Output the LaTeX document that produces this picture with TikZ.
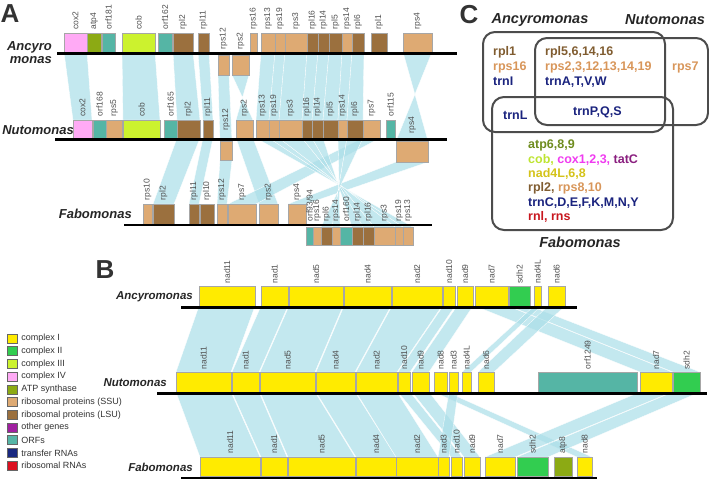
\documentclass[tikz,border=0pt]{standalone}
\usepackage{fontspec}
\setmainfont{Liberation Sans}
\usetikzlibrary{positioning,backgrounds}

\definecolor{cIc}{RGB}{255,235,0}
\definecolor{cIIc}{RGB}{50,205,80}
\definecolor{cIIIc}{RGB}{204,242,46}
\definecolor{cIVc}{RGB}{255,170,245}
\definecolor{atpc}{RGB}{140,170,20}
\definecolor{ssuc}{RGB}{222,170,115}
\definecolor{lsuc}{RGB}{155,112,62}
\definecolor{otherc}{RGB}{160,32,160}
\definecolor{orfc}{RGB}{85,181,165}
\definecolor{trnac}{RGB}{25,40,128}
\definecolor{rrnac}{RGB}{220,16,32}
\definecolor{bandc}{RGB}{170,222,232}
\definecolor{labgray}{RGB}{80,80,80}
\definecolor{lsut}{RGB}{128,92,48}
\definecolor{ssut}{RGB}{216,150,90}
\definecolor{trnat}{RGB}{26,35,126}
\definecolor{atpt}{RGB}{110,140,30}
\definecolor{cIIIt}{RGB}{190,228,50}
\definecolor{cIVt}{RGB}{240,60,240}
\definecolor{othert}{RGB}{138,31,127}
\definecolor{nadt}{RGB}{212,195,26}
\definecolor{rrnat}{RGB}{200,22,30}

\tikzstyle{gene}=[draw=black!35,line width=0.4pt,inner sep=0pt,outer sep=0pt]
\tikzstyle{cxI}=[fill=cIc]
\tikzstyle{cxII}=[fill=cIIc]
\tikzstyle{cxIII}=[fill=cIIIc]
\tikzstyle{cxIV}=[fill=cIVc]
\tikzstyle{atpS}=[fill=atpc]
\tikzstyle{ssu}=[fill=ssuc]
\tikzstyle{lsu}=[fill=lsuc]
\tikzstyle{orfS}=[fill=orfc]
\tikzstyle{glabel}=[rotate=90,anchor=west,inner sep=0.5pt,text=labgray,font=\fontsize{8.5}{8.5}\selectfont]
\tikzstyle{band}=[fill=bandc,fill opacity=0.7,draw=white,line width=0.3pt]
\tikzstyle{genome}=[line width=2.5pt]
\tikzstyle{species}=[anchor=east,inner sep=0pt,text=black!85,font=\fontsize{13}{13}\selectfont\bfseries\itshape]
\tikzstyle{bspecies}=[anchor=east,inner sep=0pt,text=black!85,font=\fontsize{11.5}{11.5}\selectfont\bfseries\itshape]
\tikzstyle{cspecies}=[inner sep=0pt,text=black!85,font=\fontsize{14.5}{14.5}\selectfont\bfseries\itshape]
\tikzstyle{panel}=[inner sep=0pt,text=black!80,font=\fontsize{26}{26}\selectfont\bfseries]
\tikzstyle{venn}=[draw=black!70,line width=2pt,rounded corners=12pt,inner sep=0pt]
\tikzstyle{vtext}=[anchor=west,inner sep=0pt,font=\fontsize{12.5}{12.5}\selectfont\bfseries]
\tikzstyle{legbox}=[draw=black!60,line width=0.5pt,minimum width=10pt,minimum height=9pt,inner sep=0pt]
\tikzstyle{legtext}=[inner sep=0pt,text=black!80,font=\fontsize{9}{9}\selectfont]

% box + rotated name: node, colour, x1, x2, y1, y2, text, text base
\newcommand{\gene}[8]{%
  \node[gene,#2,minimum width=#4-#3,minimum height=#6-#5] (#1) at ({(#3+#4)/2},{(#5+#6)/2}) {};
  \node[glabel] (#1-t) at ({(#3+#4)/2},#8) {#7};}
% synteny bands
\newcommand{\band}[2]{\path[band] (#1.south west) -- (#1.south east) -- (#2.north east) -- (#2.north west) -- cycle;}
\newcommand{\flip}[2]{\path[band] (#1.south west) -- (#1.south east) -- (#2.north west) -- (#2.north east) -- cycle;}

\begin{document}
\begin{tikzpicture}[x=1pt,y=-1pt]
\useasboundingbox (0,0) rectangle (709,479);

% ---- A ----
\node[panel] (pA) at (10,14) {A};
\node[species,align=right] (a-name) at (52,53) {Ancyro\\monas};
\node[species] (n-name) at (74,130) {Nutomonas};
\node[species] (f-name) at (132,214) {Fabomonas};

\gene{a-cox2}{cxIV}{64}{87}{33}{52}{cox2}{30}
\gene{a-atp4}{atpS}{87}{101}{33}{52}{atp4}{30}
\gene{a-orf181}{orfS}{102}{115}{33}{52}{orf181}{30}
\gene{a-cob}{cxIII}{122}{155}{33}{52}{cob}{30}
\gene{a-orf162}{orfS}{158}{172}{33}{52}{orf162}{30}
\gene{a-rpl2}{lsu}{173}{193}{33}{52}{rpl2}{30}
\gene{a-rpl11}{lsu}{198}{209}{33}{52}{rpl11}{30}
\gene{a-rps12}{ssu}{218}{229}{55}{75}{rps12}{50}
\gene{a-rps2}{ssu}{232}{249}{55}{75}{rps2}{50}
\gene{a-rps16}{ssu}{250}{257}{33}{52}{rps16}{30}
\gene{a-rps13}{ssu}{261}{275}{33}{52}{rps13}{30}
\gene{a-rps19}{ssu}{275}{285}{33}{52}{rps19}{30}
\gene{a-rps3}{ssu}{285}{307}{33}{52}{rps3}{30}
\gene{a-rpl16}{lsu}{307}{318}{33}{52}{rpl16}{30}
\gene{a-rpl14}{lsu}{318}{329}{33}{52}{rpl14}{30}
\gene{a-rpl5}{lsu}{329}{342}{33}{52}{rpl5}{30}
\gene{a-rps14}{ssu}{342}{352}{33}{52}{rps14}{30}
\gene{a-rpl6}{lsu}{352}{364}{33}{52}{rpl6}{30}
\gene{a-rpl1}{lsu}{371}{387}{33}{52}{rpl1}{30}
\gene{a-rps4}{ssu}{403}{432}{33}{52}{rps4}{30}

\gene{n-cox2}{cxIV}{73}{92}{120}{138}{cox2}{117}
\gene{n-orf168}{orfS}{93}{106}{120}{138}{orf168}{117}
\gene{n-rps5}{ssu}{106}{122}{120}{138}{rps5}{117}
\gene{n-cob}{cxIII}{123}{160}{120}{138}{cob}{117}
\gene{n-orf165}{orfS}{164}{177}{120}{138}{orf165}{117}
\gene{n-rpl2}{lsu}{177}{200}{120}{138}{rpl2}{117}
\gene{n-rpl11}{lsu}{203}{213}{120}{138}{rpl11}{117}
\gene{n-rps12}{ssu}{220}{232}{141}{160}{rps12}{131}
\gene{n-rps2}{ssu}{236}{253}{120}{138}{rps2}{117}
\gene{n-rps13}{ssu}{256}{269}{120}{138}{rps13}{117}
\gene{n-rps19}{ssu}{269}{279}{120}{138}{rps19}{117}
\gene{n-rps3}{ssu}{279}{302}{120}{138}{rps3}{117}
\gene{n-rpl16}{lsu}{302}{312}{120}{138}{rpl16}{117}
\gene{n-rpl14}{lsu}{312}{323}{120}{138}{rpl14}{117}
\gene{n-rpl5}{lsu}{323}{338}{120}{138}{rpl5}{117}
\gene{n-rps14}{ssu}{338}{347}{120}{138}{rps14}{117}
\gene{n-rpl6}{lsu}{347}{363}{120}{138}{rpl6}{117}
\gene{n-rps7}{ssu}{363}{380}{120}{138}{rps7}{117}
\gene{n-orf115}{orfS}{386}{395}{120}{138}{orf115}{117}
\gene{n-rps4}{ssu}{396}{428}{141}{162}{rps4}{134}

\gene{f-rps10}{ssu}{143}{152}{204}{224}{rps10}{201}
\gene{f-rpl2}{lsu}{153}{174}{204}{224}{rpl2}{201}
\gene{f-rpl11}{lsu}{189}{199}{204}{224}{rpl11}{201}
\gene{f-rpl10}{lsu}{200}{214}{204}{224}{rpl10}{201}
\gene{f-rps12}{ssu}{217}{227}{204}{224}{rps12}{201}
\gene{f-rps7}{ssu}{228}{256}{204}{224}{rps7}{201}
\gene{f-rps2}{ssu}{259}{278}{204}{224}{rps2}{201}
\gene{f-rps4}{ssu}{288}{306}{204}{224}{rps4}{201}
\gene{f-orf93}{orfS}{306}{313}{227}{245}{orf93/94}{222}
\gene{f-rps16}{ssu}{313}{321}{227}{245}{rps16}{222}
\gene{f-rpl6}{lsu}{321}{332}{227}{245}{rpl6}{222}
\gene{f-rps14}{ssu}{332}{340}{227}{245}{rps14}{222}
\gene{f-orf160}{orfS}{340}{352}{227}{245}{orf160}{222}
\gene{f-rpl14}{lsu}{352}{363}{227}{245}{rpl14}{222}
\gene{f-rpl16}{lsu}{363}{374}{227}{245}{rpl16}{222}
\gene{f-rps3}{ssu}{374}{395}{227}{245}{rps3}{222}
\gene{f-rps19}{ssu}{395}{403}{227}{245}{rps19}{222}
\gene{f-rps13}{ssu}{403}{413}{227}{245}{rps13}{222}

\coordinate (aL) at (57,53.5);  \coordinate (aR) at (457,53.5);
\coordinate (nL) at (55,139.5); \coordinate (nR) at (447,139.5);
\coordinate (fL) at (124,225);  \coordinate (fR) at (432,225);
\draw[genome] (aL) -- (aR);
\draw[genome] (nL) -- (nR);
\draw[genome] (fL) -- (fR);

\begin{scope}[on background layer]
  \band{a-cox2}{n-cox2}
  \band{a-cob}{n-cob}
  \band{a-rpl2}{n-rpl2}
  \band{a-rpl11}{n-rpl11}
  \band{a-rps12}{n-rps12}
  \flip{a-rps2}{n-rps2}
  \band{a-rps13}{n-rps13}
  \band{a-rps19}{n-rps19}
  \band{a-rps3}{n-rps3}
  \band{a-rpl16}{n-rpl16}
  \band{a-rpl14}{n-rpl14}
  \band{a-rpl5}{n-rpl5}
  \band{a-rps14}{n-rps14}
  \band{a-rpl6}{n-rpl6}
  \flip{a-rps4}{n-rps4}
  \band{n-rpl2}{f-rpl2}
  \band{n-rpl11}{f-rpl11}
  \band{n-rps12}{f-rps12}
  \band{n-rps2}{f-rps2}
  \band{n-rps7}{f-rps7}
  \band{n-rps4}{f-rps4}
  \flip{n-rps13}{f-rps13}
  \flip{n-rps19}{f-rps19}
  \flip{n-rps3}{f-rps3}
  \flip{n-rpl16}{f-rpl16}
  \flip{n-rpl14}{f-rpl14}
  \flip{n-rps14}{f-rps14}
  \flip{n-rpl6}{f-rpl6}
\end{scope}

% ---- B ----
\node[panel] (pB) at (105,270) {B};
\node[bspecies] (ba-name) at (193,297) {Ancyromonas};
\node[bspecies] (bn-name) at (167,383) {Nutomonas};
\node[bspecies] (bf-name) at (193,467) {Fabomonas};

\gene{ba-nad11}{cxI}{199}{255}{286}{306}{nad11}{284}
\gene{ba-nad1}{cxI}{261}{288}{286}{306}{nad1}{284}
\gene{ba-nad5}{cxI}{289}{343}{286}{306}{nad5}{284}
\gene{ba-nad4}{cxI}{344}{391}{286}{306}{nad4}{284}
\gene{ba-nad2}{cxI}{392}{442}{286}{306}{nad2}{284}
\gene{ba-nad10}{cxI}{443}{455}{286}{306}{nad10}{284}
\gene{ba-nad9}{cxI}{457}{473}{286}{306}{nad9}{284}
\gene{ba-nad7}{cxI}{475}{508}{286}{306}{nad7}{284}
\gene{ba-sdh2}{cxII}{509}{530}{286}{306}{sdh2}{284}
\gene{ba-nad4L}{cxI}{534}{541}{286}{306}{nad4L}{284}
\gene{ba-nad6}{cxI}{548}{565}{286}{306}{nad6}{284}

\gene{bn-nad11}{cxI}{176}{231}{372}{392}{nad11}{370}
\gene{bn-nad1}{cxI}{232}{259}{372}{392}{nad1}{370}
\gene{bn-nad5}{cxI}{260}{315}{372}{392}{nad5}{370}
\gene{bn-nad4}{cxI}{316}{355}{372}{392}{nad4}{370}
\gene{bn-nad2}{cxI}{356}{397}{372}{392}{nad2}{370}
\gene{bn-nad10}{cxI}{398}{410}{372}{392}{nad10}{370}
\gene{bn-nad9}{cxI}{412}{429}{372}{392}{nad9}{370}
\gene{bn-nad8}{cxI}{434}{447}{372}{392}{nad8}{370}
\gene{bn-nad3}{cxI}{449}{458}{372}{392}{nad3}{370}
\gene{bn-nad4L}{cxI}{462}{471}{372}{392}{nad4L}{370}
\gene{bn-nad6}{cxI}{478}{494}{372}{392}{nad6}{370}
\gene{bn-orf1249}{orfS}{538}{637}{372}{392}{orf1249}{370}
\gene{bn-nad7}{cxI}{640}{672}{372}{392}{nad7}{370}
\gene{bn-sdh2}{cxII}{673}{700}{372}{392}{sdh2}{370}

\gene{bf-nad11}{cxI}{200}{260}{457}{476.5}{nad11}{454}
\gene{bf-nad1}{cxI}{261}{287}{457}{476.5}{nad1}{454}
\gene{bf-nad5}{cxI}{288}{355}{457}{476.5}{nad5}{454}
\gene{bf-nad4}{cxI}{356}{396}{457}{476.5}{nad4}{454}
\gene{bf-nad2}{cxI}{396}{438}{457}{476.5}{nad2}{454}
\gene{bf-nad3}{cxI}{438}{449}{457}{476.5}{nad3}{454}
\gene{bf-nad10}{cxI}{451}{462}{457}{476.5}{nad10}{454}
\gene{bf-nad9}{cxI}{464}{480}{457}{476.5}{nad9}{454}
\gene{bf-nad7}{cxI}{485}{515}{457}{476.5}{nad7}{454}
\gene{bf-sdh2}{cxII}{517}{548}{457}{476.5}{sdh2}{454}
\gene{bf-atp8}{atpS}{554}{572}{457}{476.5}{atp8}{454}
\gene{bf-nad8}{cxI}{577}{592}{457}{476.5}{nad8}{454}

\coordinate (baL) at (181,307.5); \coordinate (baR) at (577,307.5);
\coordinate (bnL) at (157,393.5); \coordinate (bnR) at (707,393.5);
\coordinate (bfL) at (181,478);   \coordinate (bfR) at (597,478);
\draw[genome] (baL) -- (baR);
\draw[genome] (bnL) -- (bnR);
\draw[genome] (bfL) -- (bfR);

\begin{scope}[on background layer]
  \band{ba-nad11}{bn-nad11}
  \band{ba-nad1}{bn-nad1}
  \band{ba-nad5}{bn-nad5}
  \band{ba-nad4}{bn-nad4}
  \band{ba-nad2}{bn-nad2}
  \band{ba-nad10}{bn-nad10}
  \band{ba-nad9}{bn-nad9}
  \band{ba-nad7}{bn-nad7}
  \band{ba-sdh2}{bn-sdh2}
  \band{ba-nad4L}{bn-nad4L}
  \band{ba-nad6}{bn-nad6}
  \band{bn-nad11}{bf-nad11}
  \band{bn-nad1}{bf-nad1}
  \band{bn-nad5}{bf-nad5}
  \band{bn-nad4}{bf-nad4}
  \band{bn-nad2}{bf-nad2}
  \band{bn-nad10}{bf-nad10}
  \band{bn-nad9}{bf-nad9}
  \band{bn-nad8}{bf-nad8}
  \band{bn-nad3}{bf-nad3}
  \band{bn-nad7}{bf-nad7}
  \band{bn-sdh2}{bf-sdh2}
\end{scope}

% legend
\node[legbox,fill=cIc] (k1) at (12,338.5) {};
\node[legbox,fill=cIIc] (k2) at (12,351.2) {};
\node[legbox,fill=cIIIc] (k3) at (12,363.9) {};
\node[legbox,fill=cIVc] (k4) at (12,376.6) {};
\node[legbox,fill=atpc] (k5) at (12,389.3) {};
\node[legbox,fill=ssuc] (k6) at (12,402) {};
\node[legbox,fill=lsuc] (k7) at (12,414.7) {};
\node[legbox,fill=otherc] (k8) at (12,427.4) {};
\node[legbox,fill=orfc] (k9) at (12,440.1) {};
\node[legbox,fill=trnac] (k10) at (12,452.8) {};
\node[legbox,fill=rrnac] (k11) at (12,465.5) {};
\node[legtext,right=4pt of k1] (k1-t) {complex I};
\node[legtext,right=4pt of k2] (k2-t) {complex II};
\node[legtext,right=4pt of k3] (k3-t) {complex III};
\node[legtext,right=4pt of k4] (k4-t) {complex IV};
\node[legtext,right=4pt of k5] (k5-t) {ATP synthase};
\node[legtext,right=4pt of k6] (k6-t) {ribosomal proteins (SSU)};
\node[legtext,right=4pt of k7] (k7-t) {ribosomal proteins (LSU)};
\node[legtext,right=4pt of k8] (k8-t) {other genes};
\node[legtext,right=4pt of k9] (k9-t) {ORFs};
\node[legtext,right=4pt of k10] (k10-t) {transfer RNAs};
\node[legtext,right=4pt of k11] (k11-t) {ribosomal RNAs};

% ---- C ----
\node[panel] (pC) at (469,15) {C};
\node[cspecies] (c-anc) at (540,20) {Ancyromonas};
\node[cspecies] (c-nut) at (665,20) {Nutomonas};
\node[cspecies] (c-fab) at (580,242) {Fabomonas};
\node[venn,minimum width=182,minimum height=100] (v-anc) at (574,82) {};
\node[venn,minimum width=173,minimum height=87] (v-nut) at (621.5,81.5) {};
\node[venn,minimum width=181,minimum height=133] (v-fab) at (582.5,163.5) {};

\node[vtext,text=lsut] (v1) at (493,52) {rpl1};
\node[vtext,text=ssut] (v2) at (493,67) {rps16};
\node[vtext,text=trnat] (v3) at (493,81) {trnI};
\node[vtext,text=lsut] (v4) at (545,52) {rpl5,6,14,16};
\node[vtext,text=ssut] (v5) at (545,67) {rps2,3,12,13,14,19};
\node[vtext,text=trnat] (v6) at (545,82) {trnA,T,V,W};
\node[vtext,text=ssut] (v7) at (672,67) {rps7};
\node[vtext,text=trnat] (v8) at (503,115) {trnL};
\node[vtext,text=trnat] (v9) at (573,112) {trnP,Q,S};
\node[vtext,text=atpt] (v10) at (528,145) {atp6,8,9};
\node[vtext] (v11) at (528,160) {\textcolor{cIIIt}{cob,} \textcolor{cIVt}{cox1,2,3,} \textcolor{othert}{tatC}};
\node[vtext,text=nadt] (v12) at (528,174) {nad4L,6,8};
\node[vtext] (v13) at (528,188) {\textcolor{lsut}{rpl2,} \textcolor{ssut}{rps8,10}};
\node[vtext,text=trnat] (v14) at (528,203) {trnC,D,E,F,K,M,N,Y};
\node[vtext,text=rrnat] (v15) at (528,217) {rnl, rns};

\end{tikzpicture}
\end{document}
